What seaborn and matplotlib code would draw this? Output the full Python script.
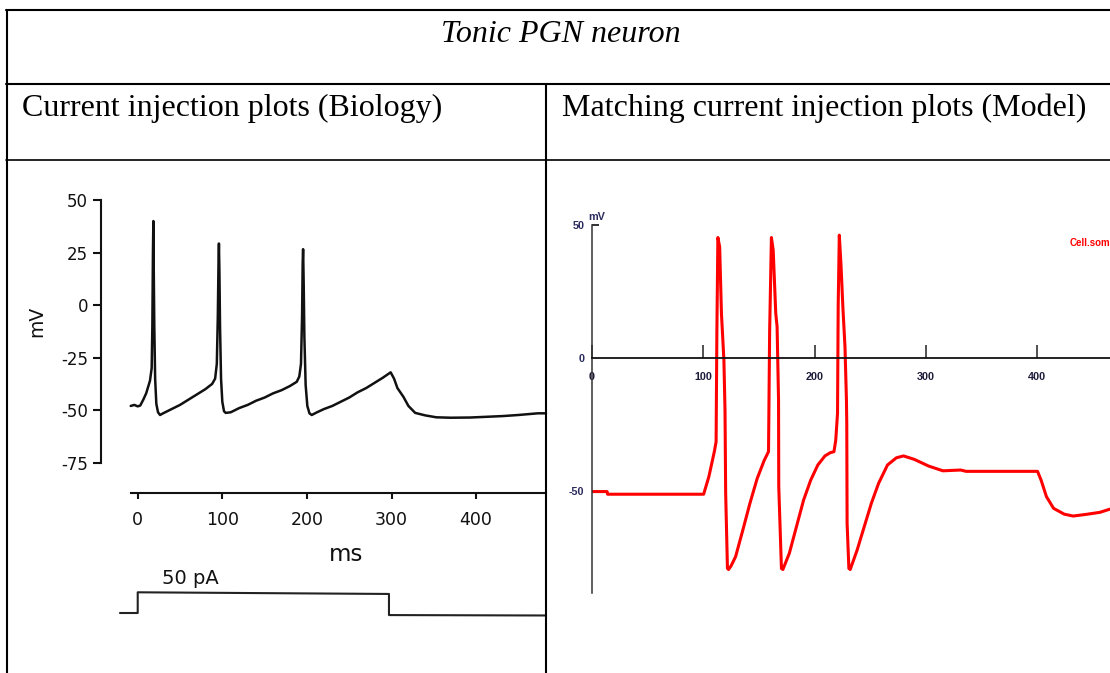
import matplotlib
matplotlib.use("Agg")
import matplotlib.pyplot as plt
import seaborn as sns
import pandas as pd
from matplotlib.lines import Line2D
from matplotlib.transforms import Bbox, TransformedBbox

# ---------------- data ----------------
title_text = "Tonic PGN neuron"
header_left = "Current injection plots (Biology)"
header_right = "Matching current injection plots (Model)"

# Biology recording (time ms, membrane potential mV)
bio_t = [-8.3, -4, 0, 3, 6.6, 10, 14.5, 16.5, 17.3, 18, 18.5, 19, 19.6, 20.6, 22, 24, 26.4,
         30, 40, 50, 60, 70, 80, 88, 91.5, 93.5, 94.7, 95.5, 96, 96.6, 97.3, 98.5, 100, 102, 104,
         110, 120, 130, 140, 150, 160, 170, 180, 188, 191, 193, 194.3, 195, 195.5, 196.2, 197,
         198.5, 200.5, 203, 205.7, 212, 220, 230, 240, 250, 260, 270, 280, 290, 299, 303, 307,
         314, 320, 328, 340, 353, 370, 393, 410, 432, 450, 473, 482.6]
bio_v = [-48, -47.5, -48.2, -47.8, -45, -42, -36, -30, -10, 25, 40, 15, -10, -35, -47, -51, -52.3,
         -51.5, -49.5, -47.5, -45, -42.5, -40, -37.5, -35, -28, -5, 20, 29.3, 15, -10, -35, -46, -50.5, -51.3,
         -51, -49, -47.5, -45.5, -44, -42, -40.5, -38.5, -36.5, -34, -28, -5, 20, 26.6, 10, -15,
         -38, -48, -51.5, -52.3, -51, -49.5, -48, -46, -44, -41.5, -39.5, -37, -34.5, -32, -35, -39.5,
         -43.6, -48, -51.3, -52.5, -53.4, -53.6, -53.5, -53.2, -52.8, -52.3, -51.5, -51.5]

# Injected current step (time ms, current pA)
step_t = [-21, 0, 0, 297, 297, 482.6]
step_i = [0, 0, 50, 46, -5, -6]
step_label = "50 pA"

bio_yticks = [50, 25, 0, -25, -50, -75]
bio_xticks = [0, 100, 200, 300, 400, 500]

# Model simulation (time ms, membrane potential mV)
mod_t = [0, 13.6, 14, 100.3, 105, 109.9, 111.5, 112.2, 113.1, 114.7, 115.5, 116.3, 118.5, 119.5,
         120.1, 121.7, 122.7, 125, 129, 135.5, 141.9, 148.4, 154.8, 158.6, 159.6, 161.2, 162.8,
         165.1, 166.3, 167.6, 167.8, 170.2, 171.5, 177.3, 183.7, 190.1, 196.5, 202.9, 209.3, 214,
         217.4, 219, 220.6, 221.2, 222.2, 223.8, 225.4, 227.3, 228.6, 228.9, 229.2, 230.8, 232,
         238.2, 244.6, 251, 257.5, 265.5, 273.5, 279.9, 289.6, 302.4, 315.3, 331.3, 336.1, 400.3,
         403.5, 408.3, 414.7, 424.3, 432.3, 443.6, 456.4, 465.4]
mod_v = [-50.1, -50.1, -51.1, -51.1, -44.5, -35.1, -31.4, 10, 45.4, 41.9, 29.3, 16.9, -0.6, -19.4,
         -50.8, -79, -79.4, -78, -74.6, -64.6, -54.5, -45.2, -38.3, -35.1, 10, 45.4, 40.6,
         16.9, 11.9, -15.6, -48.2, -79, -79.4, -73.3, -63.3, -53.3, -45.8, -40.1, -36.7, -35.5,
         -35.1, -30.8, -20.7, 20, 46.3, 34.4, 19.3, 4.3, -15.6, -24.5, -62, -79, -79.4,
         -72.1, -63.3, -54.5, -47, -40.1, -37.4, -36.7, -38, -40.5, -42.3, -42, -42.5, -42.5,
         -45.8, -52, -56.4, -58.6, -59.3, -58.7, -57.9, -56.7]
mod_yticks = [50, 0, -50]
mod_xticks = [0, 100, 200, 300, 400]
mod_trace_name = "Cell.soma(0.5)"

# ---------------- figure ----------------
sns.set_style("white")
plt.rcParams["font.family"] = ["DejaVu Sans"]
plt.rcParams["text.color"] = "black"

W, H = 1110, 673
fig = plt.figure(figsize=(W / 100, H / 100), dpi=100)
fig.patch.set_facecolor("white")


def frac_rect(l, t, r, b):
    return [l / W, 1 - b / H, (r - l) / W, (b - t) / H]


def hline(y, x0, x1, lw=1.5):
    fig.add_artist(Line2D([x0 / W, x1 / W], [1 - y / H, 1 - y / H],
                          transform=fig.transFigure, color="black", lw=lw, zorder=20))


def vline(x, y0, y1, lw=1.5):
    fig.add_artist(Line2D([x / W, x / W], [1 - y0 / H, 1 - y1 / H],
                          transform=fig.transFigure, color="black", lw=lw, zorder=20))


# table grid
hline(10, 6, W)
hline(84, 6, W)
hline(160, 6, W, lw=1.2)
vline(7, 10, H)
vline(546, 84, H)

serif = "Liberation Serif"
fig.text(561 / W, 1 - 42 / H, title_text, ha="center", va="baseline",
         family=serif, style="italic", size=23, color="black")
fig.text(22 / W, 1 - 116 / H, header_left, ha="left", va="baseline", family=serif,
         size=23, color="black")
fig.text(562 / W, 1 - 116 / H, header_right, ha="left", va="baseline", family=serif,
         size=23, color="black")

# ---------------- biology panel ----------------
ax_b = fig.add_axes(frac_rect(101, 200, 580, 493))
ax_b.set_facecolor("none")
sns.lineplot(x=bio_t, y=bio_v, ax=ax_b, color="#111111", lw=1.8,
             estimator=None, sort=False)
ax_b.set_xlim(-43.4, (580 - 137.7) / 0.846)
ax_b.set_ylim(50 - 293 / 2.1016, 50)
for s in ("top", "right"):
    ax_b.spines[s].set_visible(False)
for s in ("left", "bottom"):
    ax_b.spines[s].set_linewidth(1.5)
    ax_b.spines[s].set_color("#111111")
ax_b.spines["left"].set_bounds(-75, 50)
ax_b.spines["bottom"].set_bounds(-8.3, 482.6)
ax_b.set_yticks(bio_yticks)
ax_b.set_yticklabels([str(v) for v in bio_yticks])
ax_b.set_xticks(bio_xticks)
ax_b.set_xticklabels([str(v) for v in bio_xticks])
ax_b.tick_params(axis="y", direction="out", length=5.8, width=1.5, pad=3.4,
                 labelsize=12, colors="#111111", left=True)
ax_b.tick_params(axis="x", direction="out", length=4.3, width=1.5, pad=9,
                 labelsize=12.5, colors="#111111", bottom=True)
ax_b.set_ylabel("mV", fontsize=13.5, color="#111111")
ax_b.yaxis.label.set_va("center")
ax_b.yaxis.set_label_coords((37 - 101) / 479, (493 - 321) / 293)
ax_b.set_xlabel("ms", fontsize=16.5, color="#111111")
ax_b.xaxis.set_label_coords((346 - 101) / 479, (493 - 543) / 293)
ax_b.xaxis.label.set_va("top")
ax_b.grid(False)

cell_clip = TransformedBbox(Bbox.from_extents(8 / W, 0, 545 / W, 1), fig.transFigure)
for tk in ax_b.xaxis.get_major_ticks():
    tk.label1.set_clip_box(cell_clip)
    tk.label1.set_clip_on(True)
    tk.tick1line.set_clip_box(cell_clip)
    tk.tick1line.set_clip_on(True)

# current step
ax_i = fig.add_axes(frac_rect(101, 565, 580, 625))
ax_i.set_facecolor("none")
sns.lineplot(x=step_t, y=step_i, ax=ax_i, color="#222222", lw=1.5,
             estimator=None, sort=False)
ax_i.set_xlim(ax_b.get_xlim())
ax_i.set_ylim(-(625 - 613) / 0.414, (613 - 565) / 0.414)
ax_i.axis("off")
ax_i.text(28.4, 70, step_label, ha="left", va="baseline", fontsize=14, color="#111111")

# ---------------- model panel ----------------
sc = 2.66
ax_m = fig.add_axes(frac_rect(592, 358.3 - 50 * sc, W, 593))
ax_m.set_facecolor("none")
sns.lineplot(x=mod_t, y=mod_v, ax=ax_m, color="#ff0000", lw=2.2,
             estimator=None, sort=False)
ax_m.set_xlim(0, (W - 592) / 1.113)
ax_m.set_ylim(-(593 - 358.3) / sc, 50)
for s in ("top", "right"):
    ax_m.spines[s].set_visible(False)
ax_m.spines["bottom"].set_position(("data", 0))
ax_m.spines["bottom"].set_linewidth(1.3)
ax_m.spines["bottom"].set_color("#111111")
ax_m.spines["left"].set_linewidth(1.1)
ax_m.spines["left"].set_color("#333333")
ax_m.set_xticks(mod_xticks)
ax_m.set_xticklabels([str(v) for v in mod_xticks])
ax_m.set_yticks(mod_yticks)
ax_m.set_yticklabels([str(v) for v in mod_yticks])
ax_m.tick_params(axis="x", direction="in", length=9.4, width=1.1, pad=10,
                 labelsize=7.8, color="#222222", labelcolor="#1c1c3a", bottom=True)
ax_m.tick_params(axis="y", direction="in", length=5, width=1.3, pad=5.5,
                 labelsize=7.8, color="#222222", labelcolor="#2b2b5e", left=True)
for lab in ax_m.get_xticklabels() + ax_m.get_yticklabels():
    lab.set_family("Liberation Sans")
    lab.set_weight("bold")
for tk, val in zip(ax_m.yaxis.get_major_ticks(), mod_yticks):
    if val != 50:
        tk.tick1line.set_visible(False)
ax_m.set_ylabel("mV", rotation=0, fontsize=7.8, family="Liberation Sans",
                weight="bold", color="#2b2b5e", ha="center", va="center")
ax_m.yaxis.set_label_coords((597 - 592) / (W - 592), (593 - 217) / (593 - (358.3 - 50 * sc)))
ax_m.grid(False)

fig.text(1070 / W, 1 - 243 / H, mod_trace_name, ha="left", va="center",
         family="Liberation Sans", weight="bold", size=7, color="#ff0000")

fig.savefig("out.png", dpi=100, facecolor="white")
